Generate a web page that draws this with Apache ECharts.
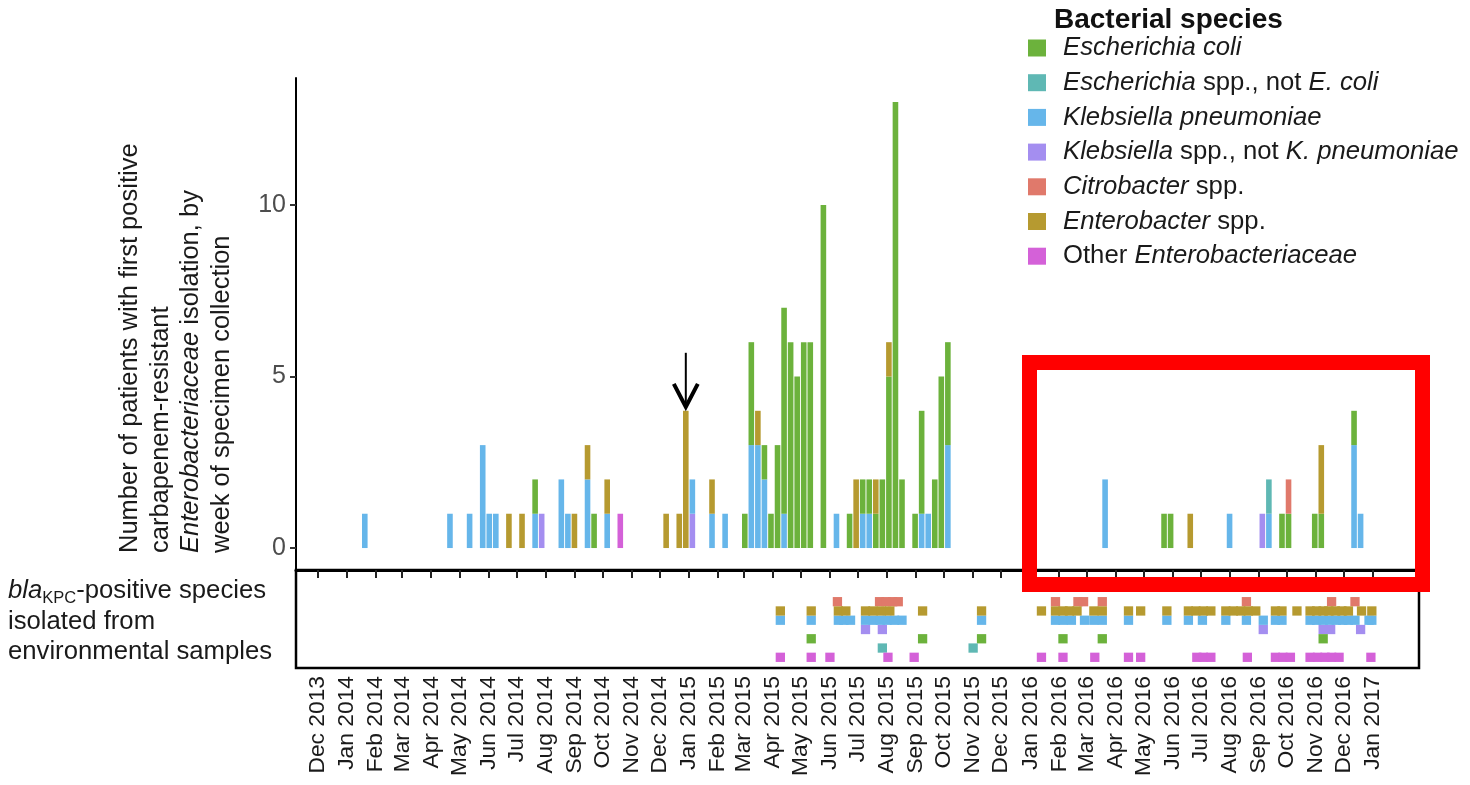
<!DOCTYPE html>
<html><head><meta charset="utf-8">
<script src="https://cdn.jsdelivr.net/npm/echarts@6/dist/echarts.min.js"></script>
<style>html,body{margin:0;padding:0;background:#fff}#c{width:1470px;height:785px}</style>
</head><body><div id="c"></div>
<script>
// ---------- DATA ----------
const ORIGIN = '2013-12-01';           // x axis counted in days from this date
const FIRST_WEEK = '2014-01-20';       // week number 0 starts here
const monthLabels = ['Dec 2013',
  'Jan 2014','Feb 2014','Mar 2014','Apr 2014','May 2014','Jun 2014','Jul 2014','Aug 2014','Sep 2014','Oct 2014','Nov 2014','Dec 2014',
  'Jan 2015','Feb 2015','Mar 2015','Apr 2015','May 2015','Jun 2015','Jul 2015','Aug 2015','Sep 2015','Oct 2015','Nov 2015','Dec 2015',
  'Jan 2016','Feb 2016','Mar 2016','Apr 2016','May 2016','Jun 2016','Jul 2016','Aug 2016','Sep 2016','Oct 2016','Nov 2016','Dec 2016',
  'Jan 2017'];
const yTicks = [0, 5, 10];

// weeks (numbered from FIRST_WEEK) that have at least one patient
const weekNo = [0,13,16,18,19,20,22,24,26,27,30,31,32,34,35,37,39,46,48,49,50,53,55,58,59,60,61,62,63,64,65,66,67,68,70,72,74,75,76,77,78,79,80,81,82,84,85,86,87,88,89,113,122,123,126,132,137,138,140,141,145,146,151,152];
// patients per week, by species (aligned with weekNo)
const eColi     = [0,0,0,0,0,0,0,0,1,0, 0,0,0,0,1,0,0,0,0,0, 0,0,0,1,3,0,1,1,3,6, 6,5,6,6,10,0,1,0,1,1, 1,2,5,13,2,1,3,0,2,5, 3,0,1,1,0,0,0,0,1,1, 1,1,1,0];
const escSpp    = [0,0,0,0,0,0,0,0,0,0, 0,0,0,0,0,0,0,0,0,0, 0,0,0,0,0,0,0,0,0,0, 0,0,0,0,0,0,0,0,0,0, 0,0,0,0,0,0,0,0,0,0, 0,0,0,0,0,0,0,1,0,0, 0,0,0,0];
const kPneu     = [1,1,1,3,1,1,0,0,1,0, 2,1,0,2,0,1,0,0,0,0, 1,1,1,0,3,3,2,0,0,1, 0,0,0,0,0,1,0,0,1,1, 0,0,0,0,0,0,1,1,0,0, 3,2,0,0,0,1,0,1,0,0, 0,0,3,1];
const klebSpp   = [0,0,0,0,0,0,0,0,0,1, 0,0,0,0,0,0,0,0,0,0, 1,0,0,0,0,0,0,0,0,0, 0,0,0,0,0,0,0,0,0,0, 0,0,0,0,0,0,0,0,0,0, 0,0,0,0,0,0,1,0,0,0, 0,0,0,0];
const citro     = [0,0,0,0,0,0,0,0,0,0, 0,0,0,0,0,0,0,0,0,0, 0,0,0,0,0,0,0,0,0,0, 0,0,0,0,0,0,0,0,0,0, 0,0,0,0,0,0,0,0,0,0, 0,0,0,0,0,0,0,0,0,1, 0,0,0,0];
const entero    = [0,0,0,0,0,0,1,1,0,0, 0,0,1,1,0,1,0,1,1,4, 0,1,0,0,0,1,0,0,0,0, 0,0,0,0,0,0,0,2,0,0, 1,0,1,0,0,0,0,0,0,0, 0,0,0,0,1,0,0,0,0,0, 0,2,0,0];
const otherEnt  = [0,0,0,0,0,0,0,0,0,0, 0,0,0,0,0,0,1,0,0,0, 0,0,0,0,0,0,0,0,0,0, 0,0,0,0,0,0,0,0,0,0, 0,0,0,0,0,0,0,0,0,0, 0,0,0,0,0,0,0,0,0,0, 0,0,0,0];

// environmental blaKPC isolates: sampling days (days from ORIGIN)
const envCitro  = [555,600,607,614,620,788,812,818,838,992,1083,1108];
const envEntero = [494,527,556,564,585,593,602,611,646,709,773,788,796,803,811,829,838,866,879,907,930,938,946,954,970,978,986,994,1002,1023,1030,1046,1060,1067,1074,1080,1087,1094,1101,1115,1126];
const envKPneu  = [494,527,556,562,569,585,593,601,608,616,624,709,788,796,805,819,829,838,866,907,930,945,970,992,1010,1023,1030,1060,1067,1074,1081,1088,1095,1101,1108,1123,1126];
const envKlebSpp= [585,603,1010,1074,1082,1114];
const envEColi  = [527,646,709,796,838,1074];
const envEscSpp = [603,700];
const envOther  = [494,527,547,609,637,773,796,830,866,879,939,946,954,993,1023,1031,1039,1060,1068,1076,1083,1091,1125];

const ARROW_WEEK = 49;
const WEEK_FROM = -10, WEEK_TO = 160;   // week range shown on the axis

// ---------- HELPERS ----------
const FONT = 'Liberation Sans, Arial, Helvetica, sans-serif';
function dayOf(s){ const [y,m,d] = s.split('-').map(Number); const [oy,om,od] = ORIGIN.split('-').map(Number);
  return Math.round((Date.UTC(y,m-1,d) - Date.UTC(oy,om-1,od)) / 86400000); }
const MON = {Jan:0,Feb:1,Mar:2,Apr:3,May:4,Jun:5,Jul:6,Aug:7,Sep:8,Oct:9,Nov:10,Dec:11};
const monthDays = monthLabels.map(l => { const [m,y] = l.split(' ');
  return dayOf(y + '-' + String(MON[m]+1).padStart(2,'0') + '-01'); });
const week0 = dayOf(FIRST_WEEK);

// weekly categories (a bar is centred on the start day of its week)
const weekCats = [];
for (let w = WEEK_FROM; w <= WEEK_TO; w++) weekCats.push(String(w));
function weekly(counts){ const a = weekCats.map(() => 0); weekNo.forEach((w,i) => { a[w - WEEK_FROM] = counts[i]; }); return a; }

const species = [ // stacking order bottom -> top
  {name:'Klebsiella spp., not K. pneumoniae', color:'#a48ef0', counts:klebSpp, env:envKlebSpp, row:3},
  {name:'Klebsiella pneumoniae', color:'#66b6ea', counts:kPneu, env:envKPneu, row:4},
  {name:'Escherichia coli', color:'#6cb23c', counts:eColi, env:envEColi, row:2},
  {name:'Escherichia spp., not E. coli', color:'#5fb8b4', counts:escSpp, env:envEscSpp, row:1},
  {name:'Citrobacter spp.', color:'#e0796b', counts:citro, env:envCitro, row:6},
  {name:'Enterobacter spp.', color:'#b69a30', counts:entero, env:envEntero, row:5},
  {name:'Other Enterobacteriaceae', color:'#d461d8', counts:otherEnt, env:envOther, row:0}
];
const legendOrder = ['Escherichia coli','Escherichia spp., not E. coli','Klebsiella pneumoniae',
  'Klebsiella spp., not K. pneumoniae','Citrobacter spp.','Enterobacter spp.','Other Enterobacteriaceae'];
const legendRich = {
  'Escherichia coli':'{i|Escherichia coli}',
  'Escherichia spp., not E. coli':'{i|Escherichia} spp., not {i|E. coli}',
  'Klebsiella pneumoniae':'{i|Klebsiella pneumoniae}',
  'Klebsiella spp., not K. pneumoniae':'{i|Klebsiella} spp., not {i|K. pneumoniae}',
  'Citrobacter spp.':'{i|Citrobacter} spp.',
  'Enterobacter spp.':'{i|Enterobacter} spp.',
  'Other Enterobacteriaceae':'Other {i|Enterobacteriaceae}'
};

// layout
const PLOT_LEFT = 296, PLOT_W = 1123;
const XMIN = -23.5, XMAX = 1176.4;
const PXD = PLOT_W / (XMAX - XMIN);                       // px per day
const BAR_LEFT = PLOT_LEFT + (week0 + 7*WEEK_FROM - 3.5 - XMIN) * PXD;
const BAR_W = weekCats.length * 7 * PXD;
const YMIN = -0.64, YMAX = 13.7;

const series = [];
species.forEach(s => {
  series.push({type:'bar', name:s.name, xAxisIndex:2, yAxisIndex:2, stack:'patients', barWidth:5.6,
    data: weekly(s.counts), itemStyle:{color:s.color}, emphasis:{disabled:true}});
});
species.forEach(s => {
  series.push({type:'scatter', name:s.name, xAxisIndex:1, yAxisIndex:1, symbol:'rect', symbolSize:[9.3,9.3],
    data: s.env.map(d => [d, s.row]), itemStyle:{color:s.color, opacity:1}, emphasis:{disabled:true}});
});

const baseGraphic = [
  {type:'text', x:176, y:553, rotation:Math.PI/2,
   style:{text:'Number of patients with first positive\ncarbapenem-resistant\n{i|Enterobacteriaceae} isolation, by\nweek of specimen collection',
     fontSize:25.5, fontFamily:FONT, fill:'#1a1a1a', align:'left', verticalAlign:'middle', lineHeight:30.7,
     rich:{i:{fontStyle:'italic', fontSize:25.5, fontFamily:FONT, fill:'#1a1a1a', lineHeight:30.7}}}},
  {type:'text', x:8, y:576,
   style:{text:'{i|bla}{sub|KPC}-positive species\nisolated from\nenvironmental samples',
     fontSize:25.7, fontFamily:FONT, fill:'#1a1a1a', lineHeight:30.5,
     rich:{i:{fontStyle:'italic', fontSize:25.7, fontFamily:FONT, fill:'#1a1a1a', lineHeight:30.5},
           sub:{fontSize:16.5, fontFamily:FONT, fill:'#1a1a1a', lineHeight:18, verticalAlign:'bottom'}}}},
  {type:'rect', z:100, shape:{x:1029.5, y:362.5, width:393, height:222},
   style:{fill:'none', stroke:'#ff0000', lineWidth:15}}
];

const chart = echarts.init(document.getElementById('c'), null, {renderer:'canvas'});
chart.setOption({
  animation:false,
  backgroundColor:'#fff',
  textStyle:{fontFamily:FONT},
  title:{text:'Bacterial species', left:1054, top:6, padding:0,
    textStyle:{fontSize:28, fontWeight:'bold', color:'#111', fontFamily:FONT}},
  legend:{orient:'vertical', left:1028, top:35, padding:0, itemWidth:18, itemHeight:17, itemGap:8.7,
    icon:'rect', selectedMode:false, data:legendOrder, formatter:n => legendRich[n],
    textStyle:{fontSize:25.7, lineHeight:25, color:'#1a1a1a', fontFamily:FONT, padding:[0,0,0,12],
      rich:{i:{fontStyle:'italic', fontSize:25.7, lineHeight:25, color:'#1a1a1a', fontFamily:FONT}}}},
  grid:[
    {left:PLOT_LEFT, top:78, width:PLOT_W, height:492},
    {left:PLOT_LEFT, top:570, width:PLOT_W, height:98, show:true, borderColor:'#000', borderWidth:2.5, backgroundColor:'transparent'},
    {left:BAR_LEFT, top:78, width:BAR_W, height:492}
  ],
  xAxis:[
    {type:'value', gridIndex:0, min:XMIN, max:XMAX,
     axisLine:{show:true, onZero:false, lineStyle:{color:'#000', width:3}},
     axisTick:{show:true, customValues:monthDays, length:8, lineStyle:{color:'#222', width:2}},
     axisLabel:{show:false}, splitLine:{show:false}},
    {type:'value', gridIndex:1, min:XMIN, max:XMAX,
     axisLine:{show:false, onZero:false}, axisTick:{show:false}, splitLine:{show:false},
     axisLabel:{show:true, customValues:monthDays, rotate:90, margin:8, fontSize:22.8, color:'#1a1a1a', fontFamily:FONT,
       formatter:v => { const i = monthDays.indexOf(Math.round(v)); return i >= 0 ? monthLabels[i] : ''; }}},
    {type:'category', gridIndex:2, data:weekCats, boundaryGap:true, show:false}
  ],
  yAxis:[
    {type:'value', gridIndex:0, min:YMIN, max:YMAX,
     axisLine:{show:true, onZero:false, lineStyle:{color:'#000', width:2}},
     axisTick:{show:true, customValues:yTicks, length:6, lineStyle:{color:'#333', width:2}},
     axisLabel:{show:true, customValues:yTicks, fontSize:25, color:'#4d4d4d', margin:10, fontFamily:FONT},
     splitLine:{show:false}},
    {type:'value', gridIndex:1, min:-1.154, max:9.42, show:false},
    {type:'value', gridIndex:2, min:YMIN, max:YMAX, show:false}
  ],
  series:series,
  graphic:baseGraphic
});

// arrow pointing at the highlighted week
const ai = weekNo.indexOf(ARROW_WEEK);
const total = species.reduce((a,s) => a + s.counts[ai], 0);
const p = chart.convertToPixel({xAxisIndex:2, yAxisIndex:2}, [String(ARROW_WEEK), total]);
const tip = p[1] - 4;
chart.setOption({graphic: baseGraphic.concat([
  {type:'line', z:50, shape:{x1:p[0], y1:tip-54, x2:p[0], y2:tip-2}, style:{stroke:'#000', lineWidth:2}},
  {type:'polyline', z:50, shape:{points:[[p[0]-12, tip-23],[p[0], tip],[p[0]+12, tip-23]]},
   style:{stroke:'#000', lineWidth:4, fill:'none', lineJoin:'miter'}}
])});
</script>
</body></html>
